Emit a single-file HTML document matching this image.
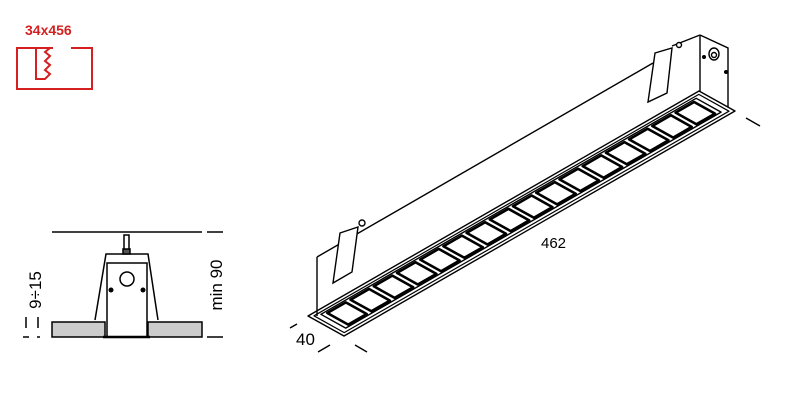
<!DOCTYPE html>
<html><head><meta charset="utf-8"><style>
html,body{margin:0;padding:0;background:#fff;}
svg{display:block;}
text{font-family:"Liberation Sans",sans-serif;}
</style></head><body>
<svg id="s" width="800" height="400" viewBox="0 0 800 400" xmlns="http://www.w3.org/2000/svg">
<text x="25" y="35" font-size="14" font-weight="bold" fill="#d42020">34x456</text>
<g stroke="#d42020" stroke-width="2" fill="none">
<polyline points="53,48 17,48 17,89 92,89 92,48 71,48"/>
<polyline points="36,48 36,79 45,79 50,74 45,70 50,65 45,61 50,56 45,52 50,48"/>
</g>
<g stroke="#000" stroke-width="1.5" fill="none">
<line x1="52" y1="232" x2="202" y2="232"/>
<line x1="207" y1="232" x2="223" y2="232"/>
<line x1="207" y1="337" x2="223" y2="337"/>
<line x1="23" y1="337" x2="29" y2="337"/>
<line x1="37" y1="337" x2="40" y2="337"/>
<line x1="26" y1="317" x2="26" y2="328"/>
<line x1="38" y1="317" x2="38" y2="328"/>
<rect x="52" y="322" width="53" height="15" fill="#ccc"/>
<rect x="148" y="322" width="54" height="15" fill="#ccc"/>
<polyline points="95,320 106,254 148,254 158,320"/>
<rect x="107" y="263" width="40" height="74" fill="#fff"/>
<line x1="103" y1="337" x2="150" y2="337" stroke-width="2.5"/>
<rect x="124" y="235" width="5" height="18" fill="#fff"/>
<rect x="123" y="249" width="7" height="5" fill="#555"/>
<circle cx="127" cy="279" r="7" fill="#fff"/>
</g>
<circle cx="111" cy="290" r="2.5"/>
<circle cx="143" cy="290" r="2.5"/>
<text transform="translate(41,290) rotate(-90)" font-size="17" text-anchor="middle">9÷15</text>
<text transform="translate(222,285) rotate(-90)" font-size="17" text-anchor="middle">min 90</text>
<g id="iso" stroke="#000" stroke-width="1.4" fill="none">
<line x1="317" y1="257" x2="653" y2="63"/>
<line x1="672" y1="46" x2="700" y2="35"/>
<line x1="317" y1="257" x2="317" y2="316"/>
<polyline points="700,35 728,48 728,107"/>
<line x1="700" y1="35" x2="700" y2="92"/>
<polygon points="340,233 358,227 352,272 333,283" fill="#fff"/>
<circle cx="362" cy="223" r="3" fill="#fff"/>
<polygon points="655,53 672,48 667,93 648,102" fill="#fff"/>
<circle cx="679" cy="45" r="2.5" fill="#fff"/>
<ellipse cx="714" cy="54" rx="5" ry="6" fill="#fff"/>
<circle cx="714" cy="55" r="2.5"/>
<line x1="290" y1="328" x2="297" y2="324"/>
<line x1="318" y1="352" x2="330" y2="345"/>
<line x1="355" y1="345" x2="367" y2="352"/>
<line x1="746" y1="118" x2="760" y2="126"/>
</g>
<circle cx="704" cy="57" r="2"/>
<circle cx="726" cy="72" r="2"/>
<text x="541" y="248" font-size="15">462</text>
<text x="296" y="345" font-size="17">40</text>
</svg>
<script>
var B=[344,336],u=[391,-225],v=[-36,-20];
function P(s,t){return (B[0]+s*u[0]+t*v[0]).toFixed(1)+","+(B[1]+s*u[1]+t*v[1]).toFixed(1);}
function poly(s0,s1,t0,t1,f,sw){return '<polygon points="'+P(s0,t0)+' '+P(s1,t0)+' '+P(s1,t1)+' '+P(s0,t1)+'" fill="'+f+'" stroke="#000" stroke-width="'+sw+'" stroke-linejoin="round"/>';}
var h='';
h+=poly(0,1,0,1,'#fff',1.4);
h+=poly(0.008,0.992,0.08,0.92,'#fff',1.2);
h+=poly(0.02,0.98,0.17,0.86,'#fff',1.4);
var n=16,len=(0.975-0.025)/n;
for(var i=0;i<n;i++){var s0=0.025+i*len;h+=poly(s0+0.006,s0+len-0.006,0.22,0.8,'#fff',2.6);}
document.getElementById('iso').insertAdjacentHTML('beforebegin','<g>'+h+'</g>');
</script>
</body></html>
